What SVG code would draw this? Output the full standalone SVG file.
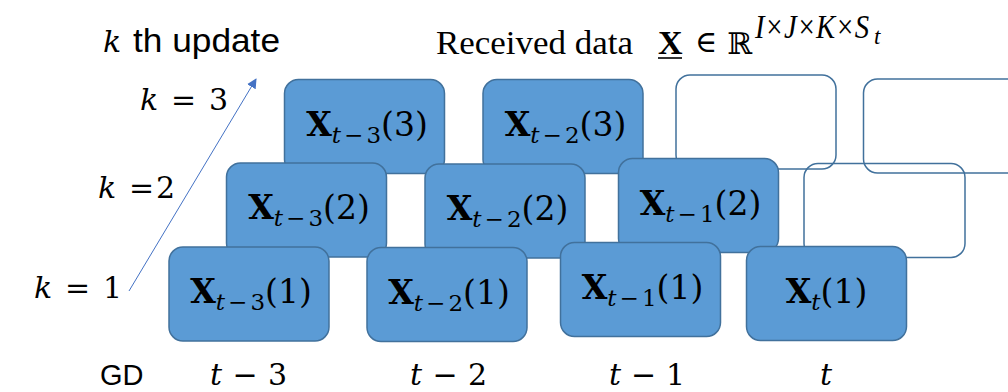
<svg xmlns="http://www.w3.org/2000/svg" width="1008" height="392" viewBox="0 0 1008 392">
<style>
.box{fill:#5B9BD5;stroke:#41719C;stroke-width:1.5}
.empty{fill:none;stroke:#41719C;stroke-width:1.5}
.m{font-family:"DejaVu Serif","Liberation Serif",serif;font-size:33px;fill:#000}
.lbl{text-anchor:middle}
.bx{font-weight:bold}
.sub{font-size:23px}
.it{font-style:italic}
.ax{font-family:"DejaVu Serif","Liberation Serif",serif;font-size:30px;fill:#000}
.tx{font-family:"Liberation Serif","Times New Roman",serif;font-size:34px;fill:#000}
.sans{font-family:"Liberation Sans",Arial,sans-serif;fill:#000}
</style>
<defs>
<marker id="ah" viewBox="0 0 10 10" refX="9" refY="5" markerWidth="10" markerHeight="10" markerUnits="userSpaceOnUse" orient="auto">
<path d="M0,0 L10,5 L0,10 z" fill="#4472C4"/>
</marker>
</defs>
<rect width="1008" height="392" fill="#fff"/>

<!-- titles -->
<g id="title-k">
<text class="ax it" x="103" y="52">k</text>
<text class="sans" x="133" y="52" font-size="34" textLength="147" lengthAdjust="spacingAndGlyphs">th update</text>
</g>
<g id="title-data">
<text class="tx" x="436" y="54" textLength="197" lengthAdjust="spacingAndGlyphs">Received data</text>
<text class="tx bx" x="658" y="54">X</text>
<line x1="658" y1="58" x2="682" y2="58" stroke="#000" stroke-width="1.6"/>
<text class="ax" x="695" y="52" font-size="28">∈</text>
<text class="ax" x="727" y="54" font-size="31">ℝ</text>
<text class="tx it" x="755" y="38" font-size="26"><tspan textLength="114" lengthAdjust="spacingAndGlyphs">I×J×K×S</tspan><tspan x="874" dy="6" font-size="23">t</tspan></text>
</g>

<!-- k labels -->
<g id="k-labels">
<text class="ax" x="140" y="110" textLength="88" lengthAdjust="spacing"><tspan class="it">k</tspan> = 3</text>
<text class="ax" x="98" y="198" textLength="77" lengthAdjust="spacing"><tspan class="it">k</tspan> =2</text>
<text class="ax" x="34" y="298" textLength="88" lengthAdjust="spacing"><tspan class="it">k</tspan> = 1</text>
</g>

<!-- connectors -->
<g id="connectors">
<line x1="129" y1="291" x2="256" y2="79" stroke="#4472C4" stroke-width="1" marker-end="url(#ah)"/>
</g>

<!-- row k=3 -->
<g id="empty-3a"><rect class="empty" x="676" y="75" width="160" height="94" rx="14"/></g>
<g id="empty-3b"><rect class="empty" x="863.5" y="79" width="200" height="94" rx="14"/></g>
<g id="n-t3-3">
<rect class="box" x="284.5" y="79.5" width="160" height="94" rx="14"/>
<text class="m lbl" x="367" y="135.5"><tspan class="bx">X</tspan><tspan class="sub" dy="7"><tspan class="it">t</tspan><tspan dx="3">−</tspan><tspan dx="3">3</tspan></tspan><tspan dy="-7">(3)</tspan></text>
</g>
<g id="n-t2-3">
<rect class="box" x="483" y="79.5" width="160" height="94" rx="14"/>
<text class="m lbl" x="565.5" y="135.5"><tspan class="bx">X</tspan><tspan class="sub" dy="7"><tspan class="it">t</tspan><tspan dx="3">−</tspan><tspan dx="3">2</tspan></tspan><tspan dy="-7">(3)</tspan></text>
</g>

<!-- row k=2 -->
<g id="n-t3-2">
<rect class="box" x="226.5" y="163" width="160" height="94" rx="14"/>
<text class="m lbl" x="309" y="219"><tspan class="bx">X</tspan><tspan class="sub" dy="7"><tspan class="it">t</tspan><tspan dx="3">−</tspan><tspan dx="3">3</tspan></tspan><tspan dy="-7">(2)</tspan></text>
</g>
<g id="n-t2-2">
<rect class="box" x="425" y="164" width="160" height="94" rx="14"/>
<text class="m lbl" x="507.5" y="220"><tspan class="bx">X</tspan><tspan class="sub" dy="7"><tspan class="it">t</tspan><tspan dx="3">−</tspan><tspan dx="3">2</tspan></tspan><tspan dy="-7">(2)</tspan></text>
</g>
<g id="n-t1-2">
<rect class="box" x="618.5" y="158.5" width="160" height="94" rx="14"/>
<text class="m lbl" x="700.5" y="214.5"><tspan class="bx">X</tspan><tspan class="sub" dy="7"><tspan class="it">t</tspan><tspan dx="3">−</tspan><tspan dx="3">1</tspan></tspan><tspan dy="-7">(2)</tspan></text>
</g>
<g id="empty-2"><rect class="empty" x="804" y="163.5" width="161" height="94" rx="14"/></g>

<!-- row k=1 -->
<g id="n-t3-1">
<rect class="box" x="169" y="247" width="160" height="94" rx="14"/>
<text class="m lbl" x="251" y="303"><tspan class="bx">X</tspan><tspan class="sub" dy="7"><tspan class="it">t</tspan><tspan dx="3">−</tspan><tspan dx="3">3</tspan></tspan><tspan dy="-7">(1)</tspan></text>
</g>
<g id="n-t2-1">
<rect class="box" x="367" y="247.5" width="160" height="94" rx="14"/>
<text class="m lbl" x="449" y="303.5"><tspan class="bx">X</tspan><tspan class="sub" dy="7"><tspan class="it">t</tspan><tspan dx="3">−</tspan><tspan dx="3">2</tspan></tspan><tspan dy="-7">(1)</tspan></text>
</g>
<g id="n-t1-1">
<rect class="box" x="560.5" y="242.5" width="160" height="94" rx="14"/>
<text class="m lbl" x="642.5" y="298.5"><tspan class="bx">X</tspan><tspan class="sub" dy="7"><tspan class="it">t</tspan><tspan dx="3">−</tspan><tspan dx="3">1</tspan></tspan><tspan dy="-7">(1)</tspan></text>
</g>
<g id="n-t-1">
<rect class="box" x="746.5" y="246.5" width="160" height="94" rx="14"/>
<text class="m lbl" x="826.5" y="303"><tspan class="bx">X</tspan><tspan class="sub it" dy="7">t</tspan><tspan dy="-7">(1)</tspan></text>
</g>

<!-- bottom axis -->
<g id="axis">
<text class="sans" x="100" y="385" font-size="29">GD</text>
<text class="ax" x="210" y="385" textLength="77" lengthAdjust="spacing"><tspan class="it">t</tspan> − 3</text>
<text class="ax" x="410" y="385" textLength="77" lengthAdjust="spacing"><tspan class="it">t</tspan> − 2</text>
<text class="ax" x="609" y="385" textLength="76" lengthAdjust="spacing"><tspan class="it">t</tspan> − 1</text>
<text class="ax it" x="820" y="385">t</text>
</g>
</svg>
